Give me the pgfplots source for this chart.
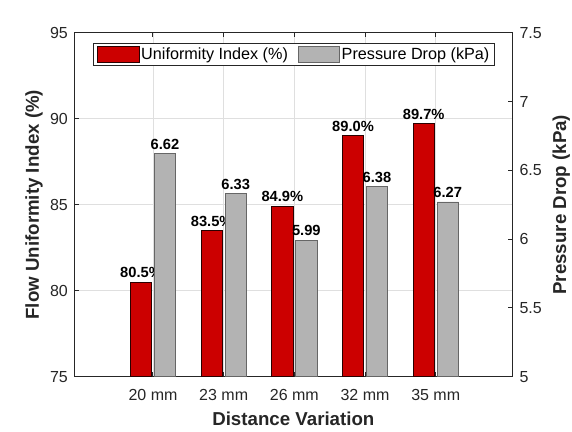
\documentclass[border=0pt]{standalone}
\usepackage{fontspec}
\setmainfont{Liberation Sans}
\usepackage{pgfplots}
\pgfplotsset{compat=1.18}
\definecolor{barred}{HTML}{CC0000}
\definecolor{bargray}{HTML}{B3B3B3}
\definecolor{axcol}{HTML}{262626}
\definecolor{gridcol}{HTML}{DFDFDF}
\definecolor{rededge}{HTML}{2A0000}
\definecolor{grayedge}{HTML}{666666}
\tikzset{vlab/.style={font=\fontsize{14.7}{17}\selectfont\bfseries, text=black, anchor=base, inner sep=0pt, yshift=4.5pt}}
\begin{document}
\begin{tikzpicture}
\useasboundingbox (0,0) rectangle (572pt,431pt);
\pgfplotsset{
  common/.style={
    width=438.7pt, height=344pt, scale only axis,
    at={(74pt,54.3pt)}, anchor=south west,
    xmin=-0.1177, xmax=6.0894,
    tick align=inside,
    major tick length=4.5pt,
    axis line style={axcol, line width=1pt},
    every tick/.style={axcol, line width=1pt},
    ticklabel style={font=\fontsize{16}{19}\selectfont, text=axcol},
    /pgf/number format/assume math mode=true,
    label style={font=\fontsize{18.7}{22}\selectfont\bfseries, text=axcol},
  },
  legimg/.style={legend image code/.code={\draw[##1] (0pt,-8pt) rectangle (41.6pt,8pt);}},
}
\begin{axis}[common,
  ymin=75, ymax=95, ytick={75,80,...,95},
  ytick pos=left, xtick pos=both,
  xtick={1,2,3,4,5},
  xticklabels={20 mm,23 mm,26 mm,32 mm,35 mm},
  grid=major, grid style={gridcol, line width=0.8pt},
  xticklabel style={anchor=base, yshift=-24pt},
  yticklabel style={anchor=east, inner sep=0pt, xshift=-6pt},
  xlabel={Distance Variation},
  ylabel={Flow Uniformity Index (\%)},
  xlabel style={at={(axis description cs:0.5,-0.1424)}, anchor=base},
  ylabel style={at={(axis description cs:-0.0798,0.5)}, anchor=base},
]
\addplot[ybar, bar width=21.3pt, bar shift=-12pt, fill=barred, draw=rededge, line width=0.8pt,
  nodes near coords={\pgfmathprintnumber[fixed,zerofill,precision=1]{\pgfplotspointmeta}\%},
  every node near coord/.append style={vlab, xshift=-12pt}]
  coordinates {(1,80.5) (2,83.5) (3,84.9) (4,89.0) (5,89.7)};
\end{axis}
\begin{axis}[common,
  ymin=5, ymax=7.5, ytick={5,5.5,...,7.5},
  axis y line*=right, axis x line=none,
  xtick=\empty,
  yticklabel style={anchor=west, inner sep=0pt, xshift=6.6pt},
  ylabel={Pressure Drop (kPa)},
  ylabel style={at={(axis description cs:1.1215,0.5)}, anchor=base},
  legend style={at={(0.044,0.9709)}, anchor=north west, legend columns=2,
    draw=axcol, line width=0.8pt, fill=white, inner xsep=3.4pt, inner ysep=2.5pt,
    font=\fontsize{16.2}{19}\selectfont, text=black, nodes={inner sep=1.7pt},
    /tikz/every even column/.append style={column sep=8pt}},
]
\addlegendimage{ybar, legimg, fill=barred, draw=rededge, line width=0.8pt}
\addlegendentry{Uniformity Index (\%)}
\addplot[ybar, bar width=21.3pt, bar shift=12pt, fill=bargray, draw=grayedge, line width=0.8pt, legimg,
  nodes near coords={\pgfmathprintnumber[fixed,zerofill,precision=2]{\pgfplotspointmeta}},
  every node near coord/.append style={vlab, xshift=12pt}]
  coordinates {(1,6.62) (2,6.33) (3,5.99) (4,6.38) (5,6.27)};
\addlegendentry{Pressure Drop (kPa)}
\end{axis}
\end{tikzpicture}
\end{document}
